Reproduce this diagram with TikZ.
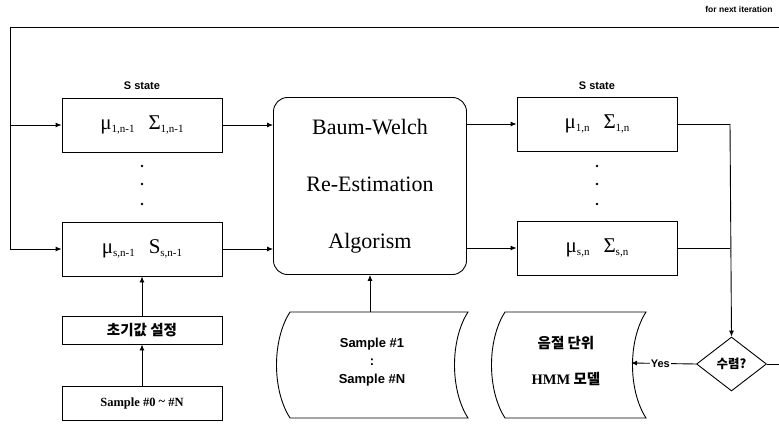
\documentclass[tikz,border=0pt]{standalone}
\usepackage{fontspec}
\setmainfont{Liberation Serif}
\setsansfont{Liberation Sans}
\newfontfamily\kr{Noto Sans CJK KR}
\usetikzlibrary{shapes.geometric,arrows.meta}
\newcommand{\lowsub}[1]{\raisebox{-3pt}{\fontsize{11}{12}\selectfont #1}}
\tikzset{
  box/.style={draw, line width=0.9pt, rectangle, minimum width=160pt, inner sep=0pt},
  conn/.style={line width=0.9pt},
  arr/.style={conn, -{Latex[length=6pt,width=5pt]}},
  lbl/.style={font=\sffamily\bfseries\fontsize{11}{13}\selectfont, inner sep=0pt},
  mathtxt/.style={font=\fontsize{21}{24}\selectfont},
  bwtxt/.style={font=\fontsize{22}{24}\selectfont},
  krtxt/.style={font=\kr\bfseries\fontsize{14.5}{16}\selectfont},
  dot/.style={fill, circle, inner sep=0pt, minimum size=2.6pt},
}
\begin{document}
\begin{tikzpicture}[x=1pt,y=-1pt]
\useasboundingbox (0,0) rectangle (779,425);

% left column
\node[box, minimum height=54pt, mathtxt] (b1) at (142,125) {μ\lowsub{1,n-1}\hspace{14pt}Σ\lowsub{1,n-1}};
\node[box, minimum height=54pt, mathtxt] (b2) at (142,249) {μ\lowsub{s,n-1}\hspace{14pt}S\lowsub{s,n-1}};
\node[lbl] (s1) at (142,86) {S state};
\node[dot] (d1a) at (142,166) {};
\node[dot] (d1b) at (142,184) {};
\node[dot] (d1c) at (142,204) {};

\node[box, minimum height=28pt, krtxt] (init) at (142,330) {초기값 설정};
\node[box, minimum height=34pt, font=\bfseries\fontsize{12.5}{14}\selectfont] (samp0) at (142,403) {Sample \#0 \raisebox{1pt}{\~{}} \#N};

% Baum-Welch
\node[draw, line width=0.9pt, rounded corners=14pt, minimum width=193pt, minimum height=177pt, bwtxt, align=center] (bw) at (370,186)
  {Baum-Welch\\[33pt]Re-Estimation\\[33pt]Algorism};

% right column
\node[box, minimum height=54pt, mathtxt] (b3) at (597,124) {μ\lowsub{1,n}\hspace{14pt}Σ\lowsub{1,n}};
\node[box, minimum height=54pt, mathtxt] (b4) at (597,248) {μ\lowsub{s,n}\hspace{14pt}Σ\lowsub{s,n}};
\node[lbl] (s3) at (597,86) {S state};
\node[dot] (d3a) at (597,166) {};
\node[dot] (d3b) at (597,184) {};
\node[dot] (d3c) at (597,204) {};

% sample documents
\coordinate (sd) at (370,312);
\draw[conn] (290,312) -- (468,312) .. controls (450,340) and (450,390) .. (468,418) -- (290,418) .. controls (272,390) and (272,340) .. (290,312) -- cycle;
\node[font=\sffamily\bfseries\fontsize{13}{17}\selectfont, align=center] (samps) at (372,362) {Sample \#1\\[1pt]:\\[1pt]Sample \#N};

\coordinate (hd) at (568,312);
\draw[conn] (505,312) -- (646,312) .. controls (628,340) and (628,390) .. (646,418) -- (505,418) .. controls (487,390) and (487,340) .. (505,312) -- cycle;
\node[krtxt, align=center] (hmm) at (566,361) {음절 단위\\[20pt]{\rmfamily HMM} 모델};
\coordinate (hr) at (631,363);

% diamond
\node[draw, line width=0.9pt, diamond, aspect=1.3, minimum width=70pt, minimum height=54pt, inner sep=0pt, font=\kr\bfseries\fontsize{12.5}{14}\selectfont] (conv) at (731.5,364) {수렴?};

% feedback
\coordinate (tl) at (10,27);
\coordinate (tr) at (782,27);
\coordinate (rr) at (782,364);
\coordinate (j) at (730,124);
\node[font=\sffamily\bfseries\fontsize{8.5}{10}\selectfont, anchor=east] (next) at (776,9) {for next iteration};

\draw[conn] (conv.east) -- (rr) -- (tr) -- (tl) -- (10,249);
\draw[arr] (10,125) -- (b1.west);
\draw[arr] (10,249) -- (b2.west);

\draw[arr] (b1.east) -- (bw.west |- b1.east);
\draw[arr] (b2.east) -- (bw.west |- b2.east);
\draw[arr] (bw.east |- b3.west) -- (b3.west);
\draw[arr] (bw.east |- b4.west) -- (b4.west);
\draw[arr] (sd) -- (bw.south -| sd);
\draw[arr] (init.north) -- (b2.south);
\draw[arr] (samp0.north) -- (init.south);

\draw[conn] (b3.east) -- (j);
\draw[conn] (b4.east) -- (j |- b4.east);
\draw[arr] (j) -- (conv.north);
\draw[arr] (conv.west) -- node[fill=white, inner sep=1pt, font=\sffamily\bfseries\fontsize{11}{13}\selectfont, pos=0.55] {Yes} (hr);
\end{tikzpicture}
\end{document}
